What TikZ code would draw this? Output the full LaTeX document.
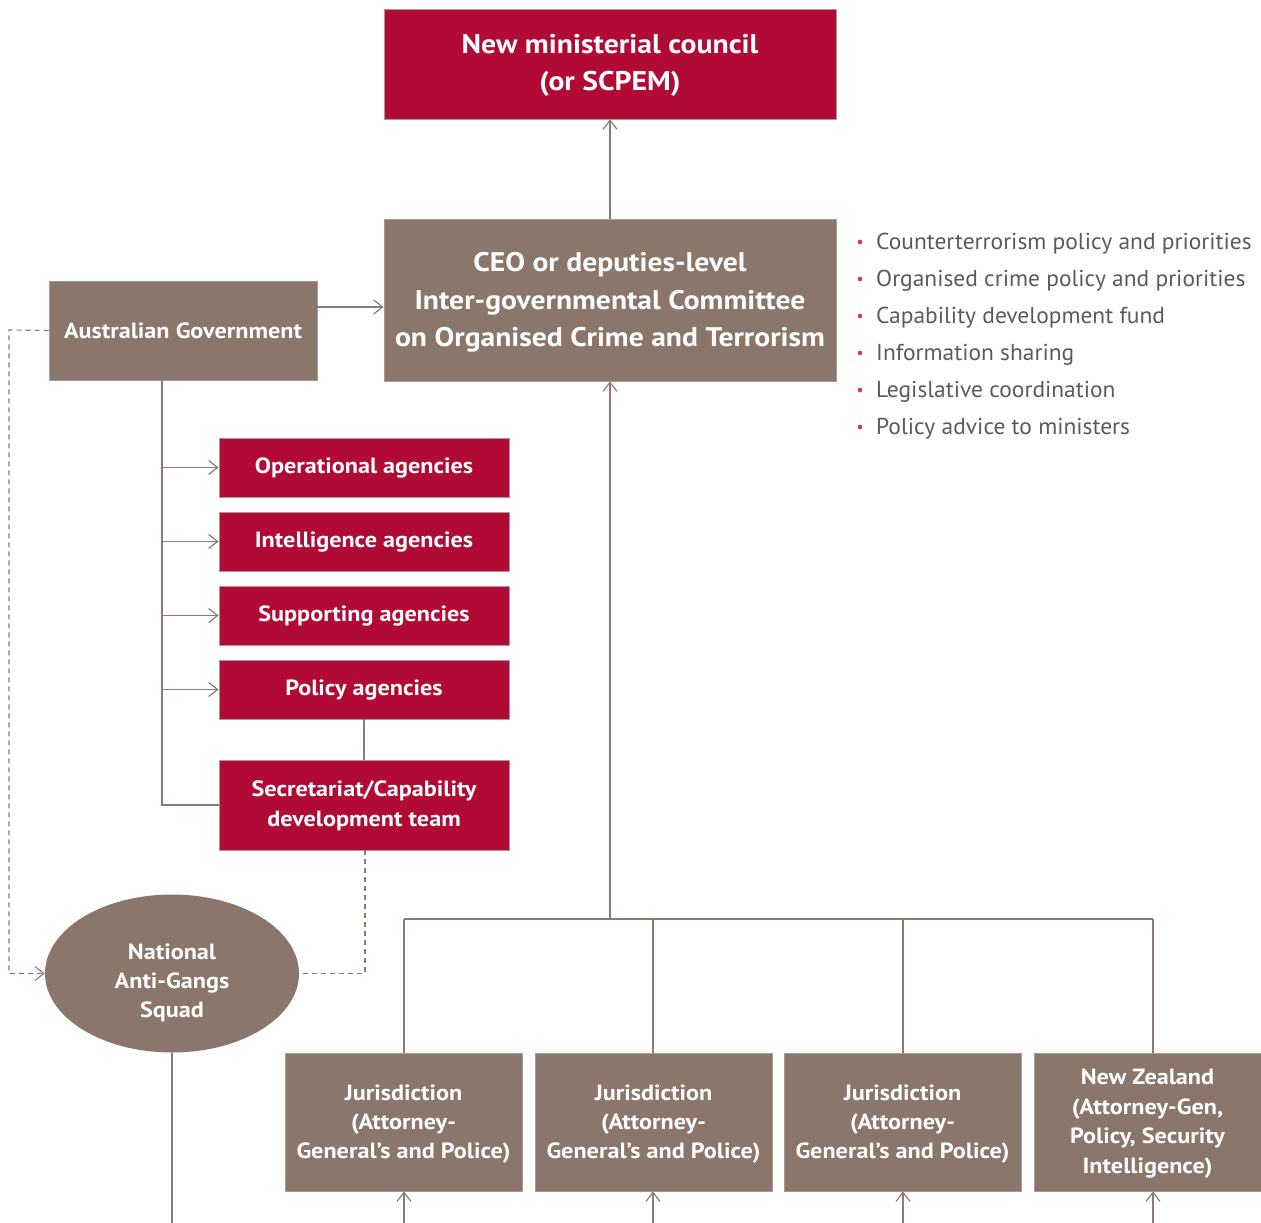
\documentclass[tikz,border=0pt]{standalone}
\usepackage{fontspec}
\setmainfont{PT Sans}[FakeStretch=1.02,BoldFeatures={FakeStretch=1.1}]
\usetikzlibrary{arrows.meta,shapes.geometric}
\definecolor{crim}{HTML}{B00A35}
\definecolor{brn}{HTML}{8A766B}
\definecolor{ln}{HTML}{8C7B70}
\definecolor{bord}{HTML}{A89A92}
\definecolor{txt}{HTML}{5A5A5A}
\definecolor{dot}{HTML}{C8404A}
\begin{document}
\begin{tikzpicture}[x=1pt,y=-1pt,
  box/.style={draw=bord,line width=0.8pt,inner sep=0pt,text=white,align=center,font=\bfseries},
  redbox/.style={box,fill=crim},
  brnbox/.style={box,fill=brn},
  conn/.style={draw=ln,line width=1.3pt},
  arr/.style={conn,-{Straight Barb[length=9pt,width=14pt,line width=1.2pt]}},
  dashline/.style={draw=ln,line width=1.1pt,dash pattern=on 5pt off 4pt},
  bul/.style={anchor=west,text=txt,inner sep=0pt,font=\fontsize{23}{26}\selectfont}
]
\useasboundingbox (0,0) rectangle (1261,1223);
% top
\node[redbox,minimum width=452pt,minimum height=110pt,font=\bfseries\fontsize{27}{37}\selectfont] (min) at (610,64) {\rule{0pt}{22pt}New ministerial council\\(or SCPEM)};
\node[brnbox,minimum width=452pt,minimum height=162pt,font=\bfseries\fontsize{26.9}{37.5}\selectfont] (ceo) at (610,300) {\rule{0pt}{24pt}CEO or deputies-level\\Inter-governmental Committee\\on Organised Crime and Terrorism};
\node[brnbox,minimum width=268pt,minimum height=99pt,font=\bfseries\fontsize{22}{26}\selectfont] (ag) at (183,330.5) {Australian Government};
% red agencies
\tikzset{agency/.style={redbox,minimum width=290pt,minimum height=59pt,font=\bfseries\fontsize{22}{26}\selectfont}}
\node[agency] (op) at (364,467.5) {\rule{0pt}{17pt}Operational agencies};
\node[agency] (in) at (364,541.5) {\rule{0pt}{17pt}Intelligence agencies};
\node[agency] (su) at (364,615.5) {\rule{0pt}{17pt}Supporting agencies};
\node[agency] (po) at (364,689.5) {\rule{0pt}{17pt}Policy agencies};
\node[agency,minimum height=90pt,font=\bfseries\fontsize{22}{30}\selectfont] (se) at (364,805) {\rule{0pt}{18pt}Secretariat/Capability\\development team};
% ellipse
\node[ellipse,fill=brn,draw=none,minimum width=254pt,minimum height=158pt,inner sep=0pt] (ng) at (172,973.5) {};
\node[inner sep=0pt,text=white,align=center,font=\bfseries\fontsize{22}{29}\selectfont] (ngt) at ([yshift=-9pt]ng.center) {National\\Anti-Gangs\\Squad};
% bottom boxes
\tikzset{jur/.style={brnbox,minimum width=237pt,minimum height=138pt,font=\bfseries\fontsize{22}{29}\selectfont}}
\node[jur] (j1) at (403.5,1122) {\rule{0pt}{19pt}Jurisdiction\\(Attorney-\\General’s and Police)};
\node[jur] (j2) at (653.5,1122) {\rule{0pt}{19pt}Jurisdiction\\(Attorney-\\General’s and Police)};
\node[jur] (j3) at (902.5,1122) {\rule{0pt}{19pt}Jurisdiction\\(Attorney-\\General’s and Police)};
\node[jur,minimum width=227pt,font=\bfseries\fontsize{22}{29.4}\selectfont] (nz) at (1147.5,1122) {\rule{0pt}{19pt}New Zealand\\(Attorney-Gen,\\Policy, Security\\Intelligence)};
% bullets
\foreach \t [count=\i] in {Counterterrorism policy and priorities,Organised crime policy and priorities,Capability development fund,Information sharing,Legislative coordination,Policy advice to ministers}{
  \fill[dot] (860,{241+37*(\i-1)+1}) circle (2.3pt);
  \node[bul] (b\i) at (876,{244+37*(\i-1)}) {\t};
}
% coordinates
\coordinate (agd) at (162,380);
\coordinate (agc) at (162,805);
\coordinate (h) at (610,919);
\coordinate (h1) at (404,919);
\coordinate (h2) at (653,919);
\coordinate (h3) at (903,919);
\coordinate (h4) at (1153,919);
\coordinate (dl1) at (9,330);
\coordinate (dl2) at (9,973.5);
\coordinate (dr1) at (365,973.5);
% connectors
\draw[arr] (ceo.north) -- (min.south);
\draw[arr] (ag.east |- 0,307) -- (ceo.west |- 0,307);
\draw[conn] (agd) -- (agc) -- (se.west);
\foreach \n in {op,in,su,po}{\draw[arr] (agd |- \n.west) -- (\n.west);}
\draw[conn] (po.south) -- (se.north);
\draw[dashline] (se.south -| dr1) -- (dr1) -- (ng.east);
\draw[dashline,-{Straight Barb[length=9pt,width=14pt,line width=1.1pt]}] (ag.west) -- (dl1) -- (dl2) -- (ng.west);
\draw[conn] (ng.south) -- (172,1223);
\draw[arr] (h) -- (ceo.south);
\draw[conn] (h1) -- (h4);
\foreach \n/\c in {j1/h1,j2/h2,j3/h3,nz/h4}{\draw[conn] (\c) -- (\c |- \n.north);}
\foreach \n/\c in {j1/h1,j2/h2,j3/h3,nz/h4}{\coordinate (e\n) at (\c |- 0,1223); \draw[arr] (e\n) -- (\c |- \n.south);}
\end{tikzpicture}
\end{document}
